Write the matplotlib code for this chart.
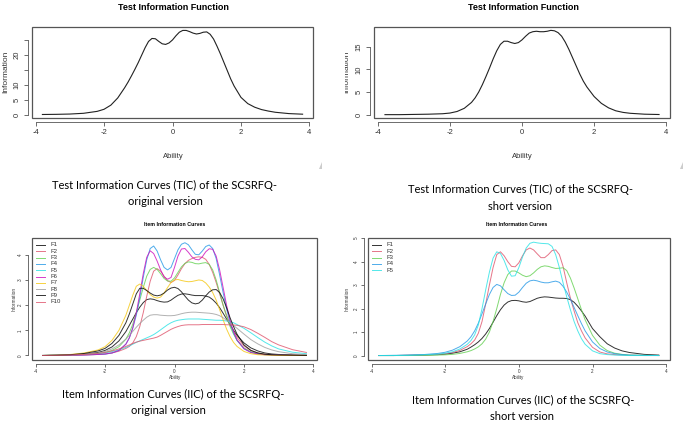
import matplotlib
matplotlib.use("Agg")
import matplotlib.pyplot as plt
from matplotlib.patches import Rectangle, Polygon
from matplotlib.transforms import Bbox, TransformedBbox

# ability grid shared by every curve
theta = [-3.8, -3.4, -3.0, -2.6, -2.2, -2.0, -1.8, -1.6,
         -1.4, -1.3, -1.2, -1.1, -1.0, -0.9, -0.8, -0.7, -0.6, -0.5, -0.4,
         -0.3, -0.2, -0.1, 0.0, 0.1, 0.2, 0.3, 0.4, 0.5, 0.6, 0.7, 0.8, 0.9,
         1.0, 1.1, 1.2, 1.3, 1.4, 1.5, 1.6, 1.7, 1.8,
         2.0, 2.2, 2.4, 2.6, 2.8, 3.0, 3.4, 3.8]

# test information, original (10 items) and short (5 items)
tic_original = [0.05, 0.1, 0.2, 0.45, 1.1, 1.8, 3.2, 5.6,
                9.0, 10.9, 13.0, 15.2, 17.5, 20.0, 22.5, 24.6, 25.6, 25.5, 24.6,
                23.8, 23.6, 24.1, 25.1, 26.5, 27.7, 28.3, 28.3, 27.9, 27.4, 27.1,
                27.3, 27.7, 27.8, 27.0, 25.4, 23.0, 20.4, 17.6, 14.8, 12.0, 9.6,
                5.8, 3.7, 2.5, 1.7, 1.2, 0.8, 0.35, 0.15]
tic_short = [0.0, 0.0, 0.05, 0.1, 0.2, 0.35, 0.7, 1.4,
             2.7, 3.7, 5.0, 6.6, 8.4, 10.3, 12.3, 14.1, 15.5, 16.2, 16.2,
             15.9, 15.7, 15.9, 16.5, 17.3, 18.0, 18.3, 18.4, 18.3, 18.3, 18.4,
             18.6, 18.5, 18.1, 17.3, 16.0, 14.4, 12.6, 10.8, 9.0, 7.4, 6.1,
             4.0, 2.5, 1.5, 0.85, 0.5, 0.3, 0.1, 0.03]

# item information, original version
f1_orig = [0.0, 0.01, 0.02, 0.05, 0.12, 0.2, 0.34, 0.58,
           0.95, 1.2, 1.45, 1.7, 1.92, 2.1, 2.22, 2.25, 2.23, 2.18, 2.14,
           2.12, 2.13, 2.2, 2.3, 2.39, 2.44, 2.45, 2.43, 2.4, 2.38, 2.38,
           2.38, 2.36, 2.32, 2.22, 2.08, 1.9, 1.68, 1.45, 1.22, 1.0, 0.8,
           0.5, 0.3, 0.18, 0.1, 0.06, 0.04, 0.02, 0.01]
f2_orig = [0.0, 0.0, 0.01, 0.02, 0.04, 0.06, 0.1, 0.17,
           0.28, 0.36, 0.5, 0.75, 1.15, 1.7, 2.35, 2.95, 3.35, 3.45, 3.35,
           3.15, 2.97, 2.9, 2.98, 3.2, 3.45, 3.65, 3.78, 3.85, 3.9, 3.92,
           3.9, 3.82, 3.62, 3.3, 2.9, 2.45, 2.0, 1.6, 1.25, 0.95, 0.72,
           0.38, 0.2, 0.1, 0.05, 0.03, 0.02, 0.01, 0.0]
f3_orig = [0.0, 0.01, 0.02, 0.04, 0.08, 0.12, 0.2, 0.35,
           0.65, 0.9, 1.25, 1.7, 2.2, 2.7, 3.15, 3.42, 3.5, 3.42, 3.25,
           3.06, 2.96, 2.95, 3.08, 3.3, 3.52, 3.66, 3.72, 3.7, 3.65, 3.64,
           3.67, 3.69, 3.62, 3.4, 3.0, 2.5, 2.0, 1.55, 1.15, 0.85, 0.6,
           0.3, 0.15, 0.08, 0.04, 0.02, 0.01, 0.0, 0.0]
f4_orig = [0.0, 0.0, 0.01, 0.02, 0.04, 0.05, 0.1, 0.2,
           0.45, 0.7, 1.1, 1.6, 2.3, 3.1, 3.8, 4.25, 4.35, 4.15, 3.8,
           3.5, 3.4, 3.5, 3.85, 4.2, 4.42, 4.48, 4.4, 4.2, 4.02, 4.0,
           4.15, 4.33, 4.39, 4.25, 3.85, 3.2, 2.5, 1.85, 1.3, 0.9, 0.6,
           0.27, 0.12, 0.06, 0.03, 0.02, 0.01, 0.0, 0.0]
f5_orig = [0.0, 0.01, 0.02, 0.04, 0.07, 0.1, 0.15, 0.22,
           0.32, 0.38, 0.45, 0.52, 0.58, 0.64, 0.7, 0.76, 0.83, 0.92, 1.02,
           1.12, 1.22, 1.3, 1.36, 1.4, 1.42, 1.44, 1.45, 1.45, 1.45, 1.45,
           1.44, 1.43, 1.42, 1.41, 1.4, 1.4, 1.39, 1.37, 1.34, 1.3, 1.23,
           1.08, 0.9, 0.71, 0.53, 0.38, 0.26, 0.13, 0.07]
f6_orig = [0.0, 0.0, 0.01, 0.02, 0.04, 0.06, 0.1, 0.2,
           0.45, 0.7, 1.1, 1.7, 2.45, 3.25, 3.9, 4.16, 4.05, 3.75, 3.4,
           3.12, 3.03, 3.1, 3.5, 3.95, 4.23, 4.25, 4.1, 3.92, 3.82, 3.8,
           3.92, 4.12, 4.24, 4.22, 3.95, 3.4, 2.7, 2.0, 1.4, 0.95, 0.62,
           0.27, 0.12, 0.06, 0.03, 0.02, 0.01, 0.0, 0.0]
f7_orig = [0.0, 0.01, 0.04, 0.1, 0.22, 0.35, 0.6, 1.0,
           1.6, 2.0, 2.4, 2.75, 2.84, 2.75, 2.58, 2.42, 2.32, 2.28, 2.32,
           2.48, 2.7, 2.9, 3.0, 3.02, 2.98, 2.95, 2.93, 2.94, 2.97, 3.0,
           2.98, 2.88, 2.72, 2.5, 2.2, 1.82, 1.42, 1.05, 0.75, 0.52, 0.36,
           0.16, 0.07, 0.03, 0.02, 0.01, 0.0, 0.0, 0.0]
f8_orig = [0.0, 0.01, 0.02, 0.05, 0.1, 0.16, 0.26, 0.42,
           0.65, 0.8, 0.96, 1.12, 1.27, 1.4, 1.52, 1.6, 1.62, 1.62, 1.6,
           1.59, 1.58, 1.58, 1.59, 1.62, 1.66, 1.69, 1.71, 1.72, 1.72, 1.71,
           1.7, 1.69, 1.68, 1.66, 1.63, 1.58, 1.5, 1.4, 1.3, 1.19, 1.08,
           0.85, 0.63, 0.46, 0.32, 0.22, 0.15, 0.07, 0.03]
f9_orig = [0.0, 0.01, 0.03, 0.08, 0.18, 0.28, 0.48, 0.8,
           1.3, 1.65, 2.05, 2.45, 2.67, 2.67, 2.58, 2.48, 2.4, 2.37, 2.4,
           2.48, 2.6, 2.68, 2.71, 2.66, 2.53, 2.36, 2.2, 2.09, 2.05, 2.08,
           2.2, 2.37, 2.52, 2.61, 2.62, 2.5, 2.25, 1.9, 1.5, 1.15, 0.85,
           0.42, 0.2, 0.1, 0.05, 0.03, 0.02, 0.01, 0.0]
f10_orig = [0.0, 0.01, 0.02, 0.04, 0.08, 0.12, 0.18, 0.26,
            0.36, 0.42, 0.48, 0.53, 0.57, 0.6, 0.63, 0.66, 0.69, 0.73, 0.8,
            0.88, 0.96, 1.04, 1.1, 1.15, 1.19, 1.21, 1.22, 1.22, 1.22, 1.22,
            1.23, 1.23, 1.23, 1.23, 1.23, 1.23, 1.23, 1.22, 1.22, 1.21, 1.2,
            1.14, 1.03, 0.88, 0.72, 0.55, 0.42, 0.23, 0.12]

# item information, short version
f1_short = [0.0, 0.0, 0.01, 0.02, 0.04, 0.06, 0.1, 0.16,
            0.27, 0.36, 0.46, 0.58, 0.73, 0.92, 1.15, 1.42, 1.7, 1.95, 2.15,
            2.28, 2.34, 2.35, 2.33, 2.29, 2.27, 2.3, 2.37, 2.44, 2.48, 2.5,
            2.49, 2.47, 2.45, 2.44, 2.44, 2.43, 2.38, 2.27, 2.1, 1.9, 1.68,
            1.15, 0.8, 0.5, 0.32, 0.2, 0.13, 0.05, 0.02]
f2_short = [0.0, 0.0, 0.01, 0.02, 0.05, 0.08, 0.13, 0.22,
            0.38, 0.5, 0.66, 0.95, 1.45, 2.2, 3.0, 3.75, 4.3, 4.42, 4.25,
            4.0, 3.8, 3.78, 3.95, 4.25, 4.5, 4.58, 4.5, 4.33, 4.17, 4.17,
            4.3, 4.47, 4.5, 4.3, 3.8, 3.1, 2.45, 1.9, 1.4, 1.05, 0.75,
            0.35, 0.15, 0.07, 0.04, 0.02, 0.01, 0.0, 0.0]
f3_short = [0.0, 0.0, 0.0, 0.01, 0.02, 0.03, 0.05, 0.09,
            0.16, 0.21, 0.28, 0.37, 0.5, 0.7, 1.0, 1.45, 2.0, 2.6, 3.1,
            3.45, 3.6, 3.6, 3.52, 3.42, 3.36, 3.4, 3.52, 3.67, 3.78, 3.82,
            3.8, 3.75, 3.71, 3.72, 3.74, 3.62, 3.3, 2.88, 2.42, 1.95, 1.52,
            0.86, 0.44, 0.21, 0.1, 0.05, 0.02, 0.01, 0.0]
f4_short = [0.0, 0.01, 0.02, 0.04, 0.09, 0.14, 0.23, 0.38,
            0.62, 0.8, 1.05, 1.38, 1.78, 2.2, 2.6, 2.9, 3.03, 2.97, 2.8,
            2.64, 2.56, 2.57, 2.7, 2.9, 3.08, 3.18, 3.21, 3.18, 3.13, 3.1,
            3.1, 3.14, 3.17, 3.12, 2.95, 2.7, 2.4, 2.05, 1.7, 1.36, 1.05,
            0.58, 0.3, 0.15, 0.08, 0.04, 0.02, 0.01, 0.0]
f5_short = [0.0, 0.0, 0.01, 0.03, 0.06, 0.1, 0.16, 0.28,
            0.48, 0.64, 0.88, 1.3, 2.0, 2.8, 3.55, 4.15, 4.42, 4.35, 4.05,
            3.65, 3.38, 3.4, 3.75, 4.2, 4.58, 4.78, 4.83, 4.8, 4.78, 4.77,
            4.76, 4.65, 4.3, 3.75, 3.1, 2.5, 1.95, 1.45, 1.05, 0.72, 0.48,
            0.2, 0.08, 0.04, 0.02, 0.01, 0.0, 0.0, 0.0]

labels_orig = ["F1", "F2", "F3", "F4", "F5", "F6", "F7", "F8", "F9", "F10"]
labels_short = ["F1", "F2", "F3", "F4", "F5"]

# R 4.x default palette (recycled after 8)
r_pal = ["black", "#DF536B", "#61D04F", "#2297E6", "#28E2E5", "#CD0BBC", "#F5C710", "#9E9E9E"]

R_FONT = ["Liberation Sans Narrow", "Liberation Sans", "DejaVu Sans"]
SMALL_FONT = ["Liberation Sans", "DejaVu Sans"]
CAP_FONT = ["Lato", "DejaVu Sans"]
AX_COL = "#555555"

W, H = 685, 424


def fx(x):
    return x / W


def fy(y):
    return 1 - y / H


def r_axes(ax, yticks, ylabels, fs, ticklen, pad, font):
    # base-R look: detached axis lines + full box
    ax.set_xlim(-4.104, 4.104)
    ax.set_facecolor("none")
    for s in ["top", "right"]:
        ax.spines[s].set_visible(False)
    for s in ["bottom", "left"]:
        ax.spines[s].set_position(("outward", 3))
        ax.spines[s].set_color(AX_COL)
        ax.spines[s].set_linewidth(0.6)
    ax.spines["bottom"].set_bounds(-4, 4)
    ax.spines["left"].set_bounds(yticks[0], yticks[-1])
    ax.set_xticks([-4, -2, 0, 2, 4])
    ax.set_xticklabels(["-4", "-2", "0", "2", "4"], family=font, fontsize=fs)
    ax.set_yticks(yticks)
    ax.set_yticklabels(ylabels, family=font, fontsize=fs, rotation=90, va="center")
    ax.tick_params(length=ticklen, width=0.6, color=AX_COL, labelcolor="#333333", pad=pad)
    ax.add_patch(Rectangle((0, 0), 1, 1, transform=ax.transAxes, fill=False,
                           ec=AX_COL, lw=0.9, clip_on=False))


def r_legend(ax, n, wpx, hpx=122.3):
    # boxless legend, one row every ~6.3 px
    handles, labels = ax.get_legend_handles_labels()
    y0 = 1 - 7.3 / hpx
    step = 6.3 / hpx
    for k in range(n):
        y = y0 - k * step
        ax.plot([4.3 / wpx, 13.3 / wpx], [y, y], transform=ax.transAxes,
                color=handles[k].get_color(), lw=0.7, alpha=0.8, clip_on=False)
        ax.text(18.5 / wpx, y, labels[k], transform=ax.transAxes, family=SMALL_FONT,
                fontsize=4.3, va="center", ha="left", color="#333333")


fig = plt.figure(figsize=(6.85, 4.24), dpi=100)

# ---- top left: TIC original
ax1 = fig.add_axes([fx(32), fy(118), 281 / W, 91 / H])
ax1.plot(theta, tic_original, color="#222222", lw=0.8)
ax1.set_ylim(-1.13, 29.45)
r_axes(ax1, [0, 5, 10, 15, 20, 25], ["0", "5", "10", "", "20", ""], 5.5, 3, 2, R_FONT)

# ---- top right: TIC short
ax2 = fig.add_axes([fx(374), fy(118), 296 / W, 91 / H])
ax2.plot(theta, tic_short, color="#222222", lw=0.8)
ax2.set_ylim(-0.74, 19.34)
r_axes(ax2, [0, 5, 10, 15], ["0", "5", "10", "15"], 5.5, 3, 2, R_FONT)

# ---- bottom left: IIC original
ax3 = fig.add_axes([fx(32), fy(360), 285 / W, 122.3 / H])
orig_series = [f1_orig, f2_orig, f3_orig, f4_orig, f5_orig,
               f6_orig, f7_orig, f8_orig, f9_orig, f10_orig]
for i, (vals, lab) in enumerate(zip(orig_series, labels_orig)):
    ax3.plot(theta, vals, color=r_pal[i % 8], lw=0.7, alpha=0.8, label=lab)
ax3.set_ylim(-0.18, 4.68)
r_axes(ax3, [0, 1, 2, 3, 4], ["0", "1", "2", "3", "4"], 3.3, 2, 1.5, SMALL_FONT)
r_legend(ax3, len(labels_orig), 285)

# ---- bottom right: IIC short
ax4 = fig.add_axes([fx(367.7), fy(360), 302.3 / W, 122.3 / H])
short_series = [f1_short, f2_short, f3_short, f4_short, f5_short]
for i, (vals, lab) in enumerate(zip(short_series, labels_short)):
    ax4.plot(theta, vals, color=r_pal[i], lw=0.7, alpha=0.8, label=lab)
ax4.set_ylim(-0.19, 5.02)
r_axes(ax4, [0, 1, 2, 3, 4, 5], ["0", "1", "2", "3", "4", "5"], 3.3, 2, 1.5, SMALL_FONT)
r_legend(ax4, len(labels_short), 302.3)

# ---- plot titles and axis labels (R style)
for cx in (173.5, 523.5):
    fig.text(fx(cx), fy(7), "Test Information Function", family=R_FONT,
             fontsize=6.5, fontweight="bold", ha="center", va="center")
for cx in (175, 517):
    fig.text(fx(cx), fy(225), "Item Information Curves", family=SMALL_FONT,
             fontsize=3.8, fontweight="bold", ha="center", va="center")
for cx in (173, 522):
    fig.text(fx(cx), fy(156), "Ability", family=R_FONT, fontsize=5.5,
             ha="center", va="center", color="#333333")
for cx in (175, 518):
    fig.text(fx(cx), fy(377), "Ability", family=SMALL_FONT, fontsize=3.3,
             ha="center", va="center", color="#333333")
fig.text(fx(6), fy(72), "Information", family=R_FONT, fontsize=6, rotation=90,
         ha="center", va="center", color="#333333")
t = fig.text(fx(347), fy(72), "Information", family=R_FONT, fontsize=6, rotation=90,
             ha="center", va="center", color="#333333")
t.set_clip_box(TransformedBbox(Bbox([[fx(345), 0], [1, 1]]), fig.transFigure))
t.set_clip_on(True)
fig.text(fx(14.5), fy(299), "Information", family=SMALL_FONT, fontsize=3.4, rotation=90,
         ha="center", va="center", color="#333333")
fig.text(fx(347.5), fy(299), "Information", family=SMALL_FONT, fontsize=3.4, rotation=90,
         ha="center", va="center", color="#333333")

# ---- figure captions
cap = "Test Information Curves (TIC) of the SCSRFQ-"
fig.text(fx(165), fy(185), cap, family=CAP_FONT, fontsize=8, ha="center", va="center")
fig.text(fx(165), fy(202), "original version", family=CAP_FONT, fontsize=8, ha="center", va="center")
fig.text(fx(520), fy(189), cap, family=CAP_FONT, fontsize=8, ha="center", va="center")
fig.text(fx(520), fy(206), "short version", family=CAP_FONT, fontsize=8, ha="center", va="center")
cap2 = "Item Information Curves (IIC) of the SCSRFQ-"
fig.text(fx(173), fy(394), cap2, family=CAP_FONT, fontsize=8, ha="center", va="center")
fig.text(fx(168), fy(411), "original version", family=CAP_FONT, fontsize=8, ha="center", va="center")
fig.text(fx(523), fy(400), cap2, family=CAP_FONT, fontsize=8, ha="center", va="center")
fig.text(fx(522), fy(417), "short version", family=CAP_FONT, fontsize=8, ha="center", va="center")

# small resize marks left over from the screenshots
for cx in (322, 683):
    fig.patches.append(Polygon([[fx(cx), fy(169)], [fx(cx), fy(162)], [fx(cx - 3), fy(169)]],
                               closed=True, transform=fig.transFigure, fc="#cccccc", ec="none"))

fig.savefig("out.png", dpi=100)
